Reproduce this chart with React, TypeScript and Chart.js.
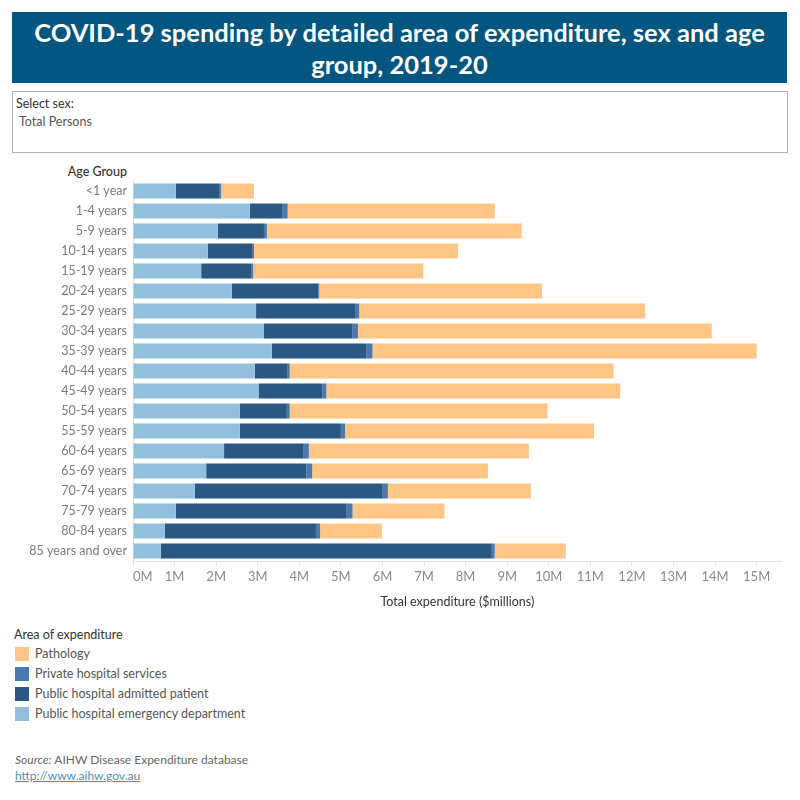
import React, { useEffect, useRef } from "react";
import { Chart, registerables } from "chart.js";

Chart.register(...registerables);

const ageGroups = [
  "<1 year", "1-4 years", "5-9 years", "10-14 years", "15-19 years", "20-24 years",
  "25-29 years", "30-34 years", "35-39 years", "40-44 years", "45-49 years",
  "50-54 years", "55-59 years", "60-64 years", "65-69 years", "70-74 years",
  "75-79 years", "80-84 years", "85 years and over",
];

// $ millions
const emergencyDept = [1.03, 2.81, 2.04, 1.8, 1.64, 2.38, 2.96, 3.15, 3.34, 2.93, 3.03, 2.57, 2.57, 2.19, 1.76, 1.49, 1.03, 0.77, 0.67];
const admittedPatient = [1.04, 0.79, 1.11, 1.08, 1.2, 2.08, 2.38, 2.12, 2.28, 0.79, 1.52, 1.13, 2.43, 1.9, 2.41, 4.5, 4.11, 3.63, 7.96];
const privateHospital = [0.05, 0.12, 0.07, 0.03, 0.05, 0.02, 0.1, 0.14, 0.14, 0.05, 0.1, 0.07, 0.1, 0.14, 0.14, 0.14, 0.14, 0.1, 0.07];
const pathology = [0.79, 4.98, 6.13, 4.91, 4.09, 5.36, 6.88, 8.51, 9.24, 7.79, 7.07, 6.2, 5.99, 5.29, 4.23, 3.44, 2.21, 1.49, 1.71];

const xTickValues = [0, 1, 2, 3, 4, 5, 6, 7, 8, 9, 10, 11, 12, 13, 14, 15];
const xMax = 15.6;

const legendItems = [
  { label: "Pathology", color: "#FFC685" },
  { label: "Private hospital services", color: "#4A7AAB" },
  { label: "Public hospital admitted patient", color: "#2B5783" },
  { label: "Public hospital emergency department", color: "#93BFDD" },
];

const FONT = "Lato, 'Open Sans', sans-serif";

export default function App() {
  const ref = useRef<HTMLCanvasElement | null>(null);

  useEffect(() => {
    if (!ref.current) return;
    const chart = new Chart(ref.current, {
      type: "bar",
      data: {
        labels: ageGroups,
        datasets: [
          { label: "Public hospital emergency department", data: emergencyDept, backgroundColor: "#93BFDD" },
          { label: "Public hospital admitted patient", data: admittedPatient, backgroundColor: "#2B5783" },
          { label: "Private hospital services", data: privateHospital, backgroundColor: "#4A7AAB" },
          { label: "Pathology", data: pathology, backgroundColor: "#FFC685" },
        ].map((d) => ({ ...d, barPercentage: 0.76, categoryPercentage: 1, borderWidth: 0 })),
      },
      options: {
        indexAxis: "y",
        animation: false,
        responsive: false,
        maintainAspectRatio: false,
        layout: { padding: { top: 21, right: 18.4, left: 0, bottom: 0 } },
        plugins: { legend: { display: false }, tooltip: { enabled: false } },
        scales: {
          x: {
            stacked: true,
            min: 0,
            max: xMax,
            afterFit: (s: any) => { s.height = 59; },
            afterBuildTicks: (s: any) => {
              s.ticks = [...xTickValues, xMax].map((v) => ({ value: v }));
            },
            ticks: {
              align: "inner",
              padding: 3,
              autoSkip: false,
              maxRotation: 0,
              color: "#8a8a8a",
              font: { family: FONT, size: 13 },
              callback: (v: any) => (Number.isInteger(v) ? v + "M" : ""),
            },
            grid: {
              drawOnChartArea: false,
              drawTicks: true,
              tickLength: 5,
              color: (c: any) => (c.tick && Number.isInteger(c.tick.value) ? "#e3e3e3" : "rgba(0,0,0,0)"),
            },
            border: { display: true, color: "#e3e3e3" },
            title: {
              display: true,
              text: "Total expenditure ($millions)",
              color: "#333333",
              font: { family: FONT, size: 12.5 },
              padding: { top: 0, bottom: 11 },
            },
          },
          y: {
            stacked: true,
            afterFit: (s: any) => { s.width = 133; },
            ticks: {
              padding: 6,
              color: "#7a7a7a",
              font: { family: FONT, size: 12.5 },
              autoSkip: false,
            },
            grid: { display: false, drawTicks: false, tickLength: 0 },
            border: { display: true, color: "#e3e3e3" },
          },
        },
      },
    });
    return () => chart.destroy();
  }, []);

  return (
    <div style={{ position: "absolute", left: 0, top: 0, width: 800, height: 800, background: "#fff", fontFamily: FONT }}>
      <div
        style={{
          position: "absolute", left: 12, top: 12, width: 775, height: 71, background: "#03567F",
          color: "#fff", fontWeight: 700, fontSize: 25.5, lineHeight: "32px", textAlign: "center",
          display: "flex", alignItems: "center", justifyContent: "center", boxSizing: "border-box",
        }}
      >
        <div style={{ whiteSpace: "nowrap" }}>
          COVID-19 spending by detailed area of expenditure, sex and age
          <br />
          group, 2019-20
        </div>
      </div>
      <div
        style={{
          position: "absolute", left: 12, top: 91, width: 776, height: 62, border: "1px solid #b5b3a6",
          boxSizing: "border-box",
        }}
      >
        <div style={{ position: "absolute", left: 3, top: 4, fontSize: 12.5, color: "#333" }}>Select sex:</div>
        <div style={{ position: "absolute", left: 6, top: 22, fontSize: 12.5, color: "#555" }}>Total Persons</div>
      </div>
      <div style={{ position: "absolute", right: 673, top: 164, fontSize: 12.5, color: "#333", fontWeight: 500 }}>Age Group</div>
      <canvas ref={ref} width={800} height={460} style={{ position: "absolute", left: 0, top: 160, width: 800, height: 460 }} />
      <div style={{ position: "absolute", left: 14, top: 627, fontSize: 12.5, color: "#333" }}>Area of expenditure</div>
      {legendItems.map((it, i) => (
        <div key={it.label} style={{ position: "absolute", left: 15, top: 646 + i * 20, height: 15, display: "flex", alignItems: "center" }}>
          <div style={{ width: 14, height: 14, background: it.color }} />
          <div style={{ marginLeft: 6, fontSize: 12.5, color: "#555", whiteSpace: "nowrap" }}>{it.label}</div>
        </div>
      ))}
      <div style={{ position: "absolute", left: 15, top: 752, fontSize: 12, color: "#666", whiteSpace: "nowrap" }}>
        <i>Source:</i> AIHW Disease Expenditure database
      </div>
      <div style={{ position: "absolute", left: 15, top: 768, fontSize: 12, color: "#4d8fc4", textDecoration: "underline" }}>
        http://www.aihw.gov.au
      </div>
    </div>
  );
}
